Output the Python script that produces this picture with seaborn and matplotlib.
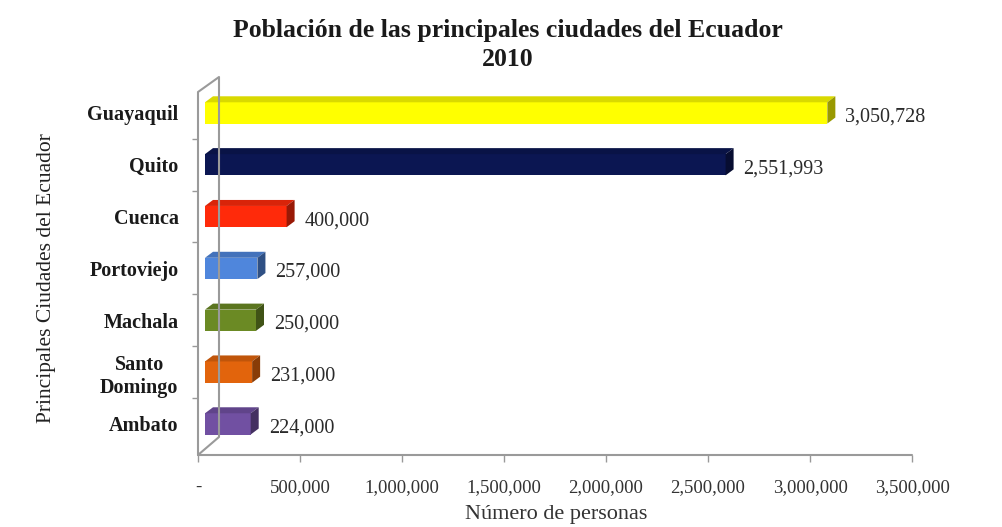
import matplotlib
matplotlib.use("Agg")
import matplotlib.pyplot as plt
import matplotlib.colors as mcolors
from matplotlib.patches import Polygon
from matplotlib.lines import Line2D
from matplotlib.transforms import ScaledTranslation
import seaborn as sns

# datos
ciudades = ["Guayaquil", "Quito", "Cuenca", "Portoviejo", "Machala", "Santo\nDomingo", "Ambato"]
poblacion = [3050728, 2551993, 400000, 257000, 250000, 231000, 224000]
colores = ["#FFFF00", "#0B1652", "#FF2A0A", "#4F86DC", "#6B8A24", "#E2640C", "#7150A2"]
xticks = [0, 500000, 1000000, 1500000, 2000000, 2500000, 3000000, 3500000]
xticklabels = ["-"] + [f"{v:,}" for v in xticks[1:]]

sns.set_style("white")
plt.rcParams["font.family"] = ["Liberation Serif", "DejaVu Serif"]

W, H = 1003, 527
fig = plt.figure(figsize=(W / 100, H / 100), dpi=100)
# axes: x de 198 a 912 px, y de 87 a 455 px
ax = fig.add_axes([198 / W, (H - 455) / H, 714 / W, 368 / H])

sns.barplot(x=poblacion, y=ciudades, hue=ciudades, palette=colores, orient="h",
            width=0.41, saturation=1, legend=False, ax=ax)
ax.set_xlim(0, 3500000)
ax.set_ylim(6.6, -0.5)

# efecto 3D: cara superior y lateral
shift = ScaledTranslation(7 / 100, 0, fig.dpi_scale_trans)
dx = 8 * 3500000 / 714
dy = 6 * 7.1 / 368
for patch, col in zip(ax.patches, colores):
    x0, y0 = patch.get_x(), patch.get_y()
    w, h = patch.get_width(), patch.get_height()
    patch.set_transform(ax.transData + shift)
    patch.set_edgecolor("none")
    rgb = mcolors.to_rgb(col)
    top_c = tuple(c * 0.85 for c in rgb)
    side_c = tuple(c * 0.6 for c in rgb)
    top = Polygon([(x0, y0), (x0 + w, y0), (x0 + w + dx, y0 - dy), (x0 + dx, y0 - dy)],
                  closed=True, facecolor=top_c, edgecolor="none",
                  transform=ax.transData + shift, clip_on=False)
    side = Polygon([(x0 + w, y0), (x0 + w, y0 + h), (x0 + w + dx, y0 + h - dy), (x0 + w + dx, y0 - dy)],
                   closed=True, facecolor=side_c, edgecolor="none",
                   transform=ax.transData + shift, clip_on=False)
    ax.add_patch(top)
    ax.add_patch(side)

# etiquetas de valor
for i, v in enumerate(poblacion):
    ax.annotate(f"{v:,}", xy=(v, i), xytext=(25, -4), textcoords="offset pixels",
                ha="left", va="center", fontsize=14.5, color="#2a2a2a", annotation_clip=False)

# ejes
for s in ax.spines.values():
    s.set_visible(False)
ax.set_xticks(xticks)
ax.set_xticklabels(xticklabels, fontsize=13.5, color="#333333")
ax.tick_params(axis="x", length=5, width=1, color="#999999", direction="out", pad=12, bottom=True)
ax.set_yticks(range(len(ciudades)))
ax.set_yticklabels(ciudades, fontsize=14.5, fontweight="bold", color="#1a1a1a")
for t in ax.get_yticklabels():
    t.set_multialignment("center")
ax.set_yticks([i + 0.5 for i in range(6)], minor=True)
ax.tick_params(axis="y", which="major", length=0, pad=14)
ax.tick_params(axis="y", which="minor", length=4, width=1, color="#999999", left=True)
ax.set_xlabel("")
ax.set_ylabel("")

# paredes del gráfico
def fx(px):
    return (px - 198) / 714

def fy(py):
    return (455 - py) / 368

wall = [(198, 455), (198, 92), (219, 77), (219, 437), (198, 455), (912, 455)]
ax.add_line(Line2D([fx(p[0]) for p in wall], [fy(p[1]) for p in wall],
                   transform=ax.transAxes, color="#9a9a9a", lw=1.5, clip_on=False))

fig.text(508 / W, 1 - 45 / H, "Población de las principales ciudades del Ecuador\n2010",
         ha="center", va="center", fontsize=18.5, fontweight="bold", linespacing=1.3, color="#1a1a1a")
fig.text(47 / W, 1 - 278 / H, "Principales Ciudades del Ecuador", rotation=90,
         ha="center", va="center", fontsize=15.5, color="#222222")
fig.text(556 / W, 1 - 515 / H, "Número de personas", ha="center", va="center",
         fontsize=16, color="#333333")

fig.savefig("out.png", dpi=100)
